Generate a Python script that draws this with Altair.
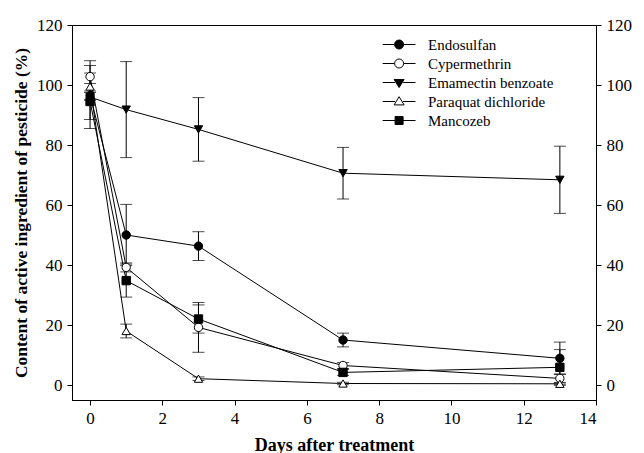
import altair as alt
import pandas as pd

days = [0, 1, 3, 7, 13]
names = ["Endosulfan", "Cypermethrin", "Emamectin benzoate", "Paraquat dichloride", "Mancozeb"]

endosulfan = [96.5, 50.0, 46.3, 15.0, 8.9]
endosulfan_err = [1.5, 10.2, 4.8, 2.3, 5.4]
cypermethrin = [102.8, 39.2, 19.2, 6.5, 2.2]
cypermethrin_err = [5.3, 1.5, 8.3, 1.0, 1.5]
emamectin = [96.0, 91.8, 85.2, 70.6, 68.4]
emamectin_err = [10.5, 16.0, 10.6, 8.6, 11.2]
paraquat = [99.5, 18.0, 2.1, 0.5, 0.4]
paraquat_err = [4.5, 2.3, 0.6, 0.4, 0.4]
mancozeb = [94.5, 34.8, 22.0, 4.2, 5.9]
mancozeb_err = [6.0, 5.5, 4.7, 1.0, 5.9]

series = [endosulfan, cypermethrin, emamectin, paraquat, mancozeb]
errors = [endosulfan_err, cypermethrin_err, emamectin_err, paraquat_err, mancozeb_err]

rows = []
for name, vals, errs in zip(names, series, errors):
    for d, v, e in zip(days, vals, errs):
        rows.append({"pesticide": name, "day": d, "value": v, "lo": v - e, "hi": v + e})
df = pd.DataFrame(rows)
legend_df = pd.DataFrame({"pesticide": names})

FONT = "Liberation Serif"
xscale = alt.Scale(domain=[-0.5, 14], nice=False, zero=False)
yscale = alt.Scale(domain=[-5, 120], nice=False, zero=False)
xaxis = alt.Axis(values=list(range(0, 15, 2)), title="Days after treatment")

shape_range = ["circle", "circle", "triangle-down", "triangle-up", "square"]
fill_range = ["black", "white", "black", "white", "black"]
stroke_range = ["black"] * 5

# legend symbol paths (line + marker), 1 unit = 4px for symbolSize 64
cx = -3.1
def seg(a, b):
    return f"M{a},0H{b}"
left, right = -7.2, 1.0
r = 1.125
circle_p = (seg(left, cx - r) + seg(cx + r, right) +
            f"M{cx - r},0A{r},{r} 0 1,0 {cx + r},0A{r},{r} 0 1,0 {cx - r},0Z")
tri_down = (seg(left, cx - 1.0) + seg(cx + 1.0, right) +
            f"M{cx - 1.25},-0.75L{cx + 1.25},-0.75L{cx},1.25Z")
tri_up = (seg(left, cx - 1.0) + seg(cx + 1.0, right) +
          f"M{cx - 1.25},0.85L{cx + 1.25},0.85L{cx},-1.2Z")
square_p = (seg(left, cx - 1.0) + seg(cx + 1.0, right) +
            f"M{cx - 1.0},-1.0H{cx + 1.0}V1.0H{cx - 1.0}Z")
legend_paths = [circle_p, circle_p, tri_down, tri_up, square_p]

base = alt.Chart(df)
X = alt.X("day:Q", scale=xscale, axis=xaxis)

lines = base.mark_line(color="black", strokeWidth=1).encode(
    x=X,
    y=alt.Y("value:Q", scale=yscale,
            axis=alt.Axis(values=list(range(0, 121, 20)),
                          title="Content of active ingredient of pesticide (%)")),
    detail="pesticide:N",
)

rules = base.mark_rule(color="black", strokeWidth=1).encode(
    x=X,
    y=alt.Y("lo:Q", scale=yscale,
            axis=alt.Axis(values=list(range(0, 121, 20)), orient="right", title=None)),
    y2="hi:Q",
)

caps_lo = base.mark_tick(color="black", thickness=1, size=12, orient="horizontal").encode(
    x=X, y=alt.Y("lo:Q", scale=yscale, axis=None),
)
caps_hi = base.mark_tick(color="black", thickness=1, size=12, orient="horizontal").encode(
    x=X, y=alt.Y("hi:Q", scale=yscale, axis=None),
)

point_layers = []
for name, shp, fl in zip(names, shape_range, fill_range):
    point_layers.append(
        base.transform_filter(alt.datum.pesticide == name).mark_point(
            shape=shp, filled=True, fill=fl, stroke="black", strokeWidth=1, opacity=1, size=70
        ).encode(x=X, y=alt.Y("value:Q", scale=yscale, axis=None))
    )

# legend-only layer: rows carry no coordinates, so nothing is drawn in the plot
leg = alt.Legend(
    title=None, orient="none", legendX=332, legendY=12,
    symbolSize=64, labelOffset=9, rowPadding=3,
    labelFont=FONT, labelFontSize=15, labelColor="black",
    symbolStrokeColor="black", symbolStrokeWidth=1, symbolOpacity=1,
)
legend_layer = alt.Chart(legend_df).mark_point(
    filled=False, strokeWidth=1, opacity=1, size=64
).encode(
    x=X,
    y=alt.Y("value:Q", scale=yscale, axis=None),
    shape=alt.Shape("pesticide:N", sort=names,
                    scale=alt.Scale(domain=names, range=legend_paths), legend=leg),
    fill=alt.Fill("pesticide:N", sort=names,
                  scale=alt.Scale(domain=names, range=fill_range), legend=leg),
    stroke=alt.Stroke("pesticide:N", sort=names,
                      scale=alt.Scale(domain=names, range=stroke_range), legend=leg),
)

chart = alt.layer(lines, rules, caps_lo, caps_hi, *point_layers, legend_layer).resolve_axis(
    y="independent"
).properties(
    width=524, height=375, padding={"left": 4, "top": 8, "right": 4, "bottom": 2}
).configure_view(
    stroke="black", strokeWidth=1
).configure_axis(
    grid=False, domainColor="black", tickColor="black", tickSize=5,
    labelFont=FONT, labelFontSize=17, labelColor="black", labelPadding=5,
    titleFont=FONT, titleFontSize=17.5, titleFontWeight="bold", titleColor="black",
).configure_axisY(titlePadding=6).configure_axisX(titlePadding=10, titleFontSize=18)

chart.save("out.html", embed_options={"renderer": "svg", "actions": False})
